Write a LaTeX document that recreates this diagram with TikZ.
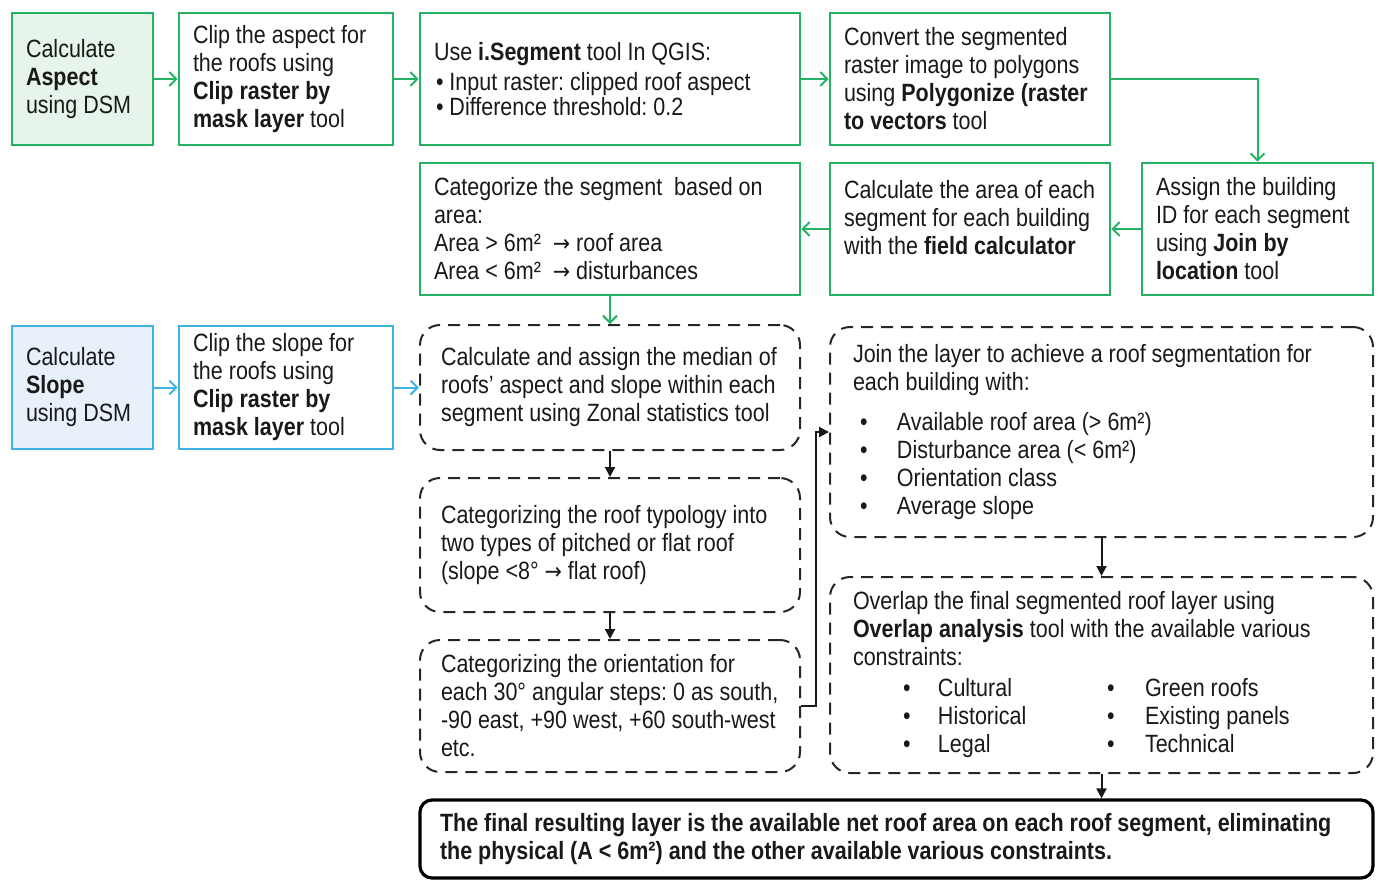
\documentclass[tikz,border=0pt]{standalone}
\usepackage{fontspec}
\setmainfont{Liberation Sans}[FakeStretch=0.86]
\newfontfamily\arrowfont{DejaVu Sans}[FakeStretch=0.9]
\newcommand{\steparrow}{{\arrowfont\fontsize{11.5}{14}\selectfont →}}
\newcommand{\stepfont}{\fontsize{12.5}{14}\selectfont\frenchspacing}
\usetikzlibrary{arrows.meta}
\definecolor{stepgreen}{RGB}{38,178,100}
\definecolor{stepgreenfill}{RGB}{230,244,234}
\definecolor{stepblue}{RGB}{62,180,228}
\definecolor{stepbluefill}{RGB}{232,241,250}
\definecolor{steptext}{RGB}{25,25,25}
\tikzset{
  boxfont/.style={font=\stepfont, text=steptext, align=left,
    execute at begin node={\spaceskip=0pt \xspaceskip=0pt \rightskip=0pt plus 1fil minus 20pt}},
  greenbox/.style={boxfont, draw=stepgreen, line width=1.3pt, inner xsep=7pt, inner ysep=2pt},
  bluebox/.style={greenbox, draw=stepblue},
  dashbox/.style={boxfont, draw=black!85, line width=1pt, dash pattern=on 6pt off 4pt, rounded corners=10pt,
    inner xsep=10.5pt, inner ysep=2pt, text width=169pt},
  finalbox/.style={boxfont, draw=black, line width=1.6pt, rounded corners=6pt, inner xsep=10pt},
  garrow/.style={draw=stepgreen, line width=1pt, -{Straight Barb[length=3.5pt,width=7pt]}},
  barrow/.style={garrow, draw=stepblue},
  karrow/.style={draw=black!90, line width=1pt, -{Triangle[length=5pt,width=5pt]}}
}
\begin{document}
\begin{tikzpicture}[x=0.5pt, y=-0.5pt]
    \useasboundingbox (0,0) rectangle (1380,880);
    \node[greenbox, fill=stepgreenfill, text width=56.5pt, minimum height=66pt] (aspect) at (82.5,79) {Calculate\\\textbf{Aspect}\\using DSM};
    \node[greenbox, text width=93pt, minimum height=66pt] (clipaspect) at (286,79) {Clip the aspect for\\the roofs using\\\textbf{Clip raster by}\\\textbf{mask layer} tool};
    \node[greenbox, text width=176pt, minimum height=66pt] (segment) at (610,79) {Use \textbf{i.Segment} tool In QGIS:\\[1pt]\hspace*{1pt}• Input raster: clipped roof aspect\\[-1.5pt]\hspace*{1pt}• Difference threshold: 0.2};
    \node[greenbox, text width=126pt, minimum height=66pt] (polygonize) at (970,79) {Convert the segmented\\raster image to polygons\\using \textbf{Polygonize (raster}\\\textbf{to vectors} tool};
    \node[greenbox, text width=101.5pt, minimum height=66pt] (buildid) at (1257.5,229) {Assign the building\\ID for each segment\\using \textbf{Join by}\\\textbf{location} tool};
    \node[greenbox, text width=126pt, minimum height=66pt] (areacalc) at (970,229) {Calculate the area of each\\segment for each building\\with the \textbf{field calculator}\\[-2pt]\mbox{}};
    \node[greenbox, text width=176pt, minimum height=66pt] (areaclass) at (610,229) {Categorize the segment\ \ based on\\area:\\Area > 6m²\ \ \steparrow\ roof area\\Area < 6m²\ \ \steparrow\ disturbances};
    \node[bluebox, fill=stepbluefill, text width=56.5pt, minimum height=61.5pt] (slope) at (82.5,387.5) {Calculate\\\textbf{Slope}\\using DSM};
    \node[bluebox, text width=93pt, minimum height=61.5pt] (clipslope) at (286,387.5) {Clip the slope for\\the roofs using\\\textbf{Clip raster by}\\\textbf{mask layer} tool};
    \node[dashbox, minimum height=62.5pt] (median) at (610,387.5) {Calculate and assign the median of\\roofs’ aspect and slope within each\\segment using Zonal statistics tool};
    \node[dashbox, minimum height=67pt] (typology) at (610,545) {Categorizing the roof typology into\\two types of pitched or flat roof\\(slope <8° \steparrow\ flat roof)};
    \node[dashbox, minimum height=66pt] (orient) at (610,706) {Categorizing the orientation for\\each 30° angular steps: 0 as south,\\-90 east, +90 west, +60 south-west\\etc.};
    \node[dashbox, text width=248.5pt, inner xsep=11.5pt, minimum height=105pt] (joinlayer) at (1101.5,432) {Join the layer to achieve a roof segmentation for\\each building with:\\[6pt]
        \hspace*{3.5pt}\makebox[18.5pt][l]{•}Available roof area (> 6m²)\\
        \hspace*{3.5pt}\makebox[18.5pt][l]{•}Disturbance area (< 6m²)\\
        \hspace*{3.5pt}\makebox[18.5pt][l]{•}Orientation class\\
        \hspace*{3.5pt}\makebox[18.5pt][l]{•}Average slope};
    \node[dashbox, text width=248.5pt, inner xsep=11.5pt, minimum height=98pt] (overlap) at (1101.5,675) {Overlap the final segmented roof layer using\\\textbf{Overlap analysis} tool with the available various\\constraints:\\[1.5pt]
        \hspace*{25pt}\makebox[17.5pt][l]{•}\makebox[84.5pt][l]{Cultural}\makebox[19pt][l]{•}Green roofs\\
        \hspace*{25pt}\makebox[17.5pt][l]{•}\makebox[84.5pt][l]{Historical}\makebox[19pt][l]{•}Existing panels\\
        \hspace*{25pt}\makebox[17.5pt][l]{•}\makebox[84.5pt][l]{Legal}\makebox[19pt][l]{•}Technical};
    \node[finalbox, text width=456.5pt, minimum height=39pt] (result) at (896.5,839) {\textbf{The final resulting layer is the available net roof area on each roof segment, eliminating}\\\textbf{the physical (A < 6m²) and the other available various constraints.}};
    \draw[garrow] (aspect) -- (clipaspect);
    \draw[garrow] (clipaspect) -- (segment);
    \draw[garrow] (segment) -- (polygonize);
    \draw[garrow] (polygonize) -| (buildid);
    \draw[garrow] (buildid) -- (areacalc);
    \draw[garrow] (areacalc) -- (areaclass);
    \draw[garrow] (areaclass) -- (median);
    \draw[barrow] (slope) -- (clipslope);
    \draw[barrow] (clipslope) -- (median);
    \draw[karrow] (median) -- (typology);
    \draw[karrow] (typology) -- (orient);
    \draw[karrow] (orient.east) -- ++(15,0) |- (joinlayer.west);
    \draw[karrow] (joinlayer) -- (overlap);
    \draw[karrow] (overlap.south) -- (overlap.south |- result.north);
\end{tikzpicture}
\end{document}
